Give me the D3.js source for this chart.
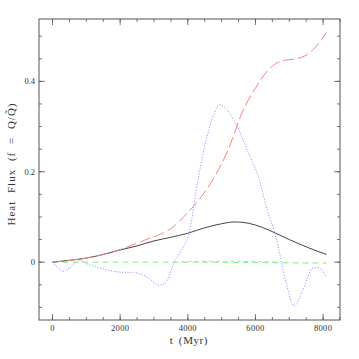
<!DOCTYPE html>
<meta charset="utf-8">
<style>
body { margin: 0; background: #fff; }
.frame { fill: none; stroke: #555; stroke-width: 1px; }
.tick line { stroke: #555; stroke-width: 0.8px; }
.lbl { font-family: "Liberation Serif", serif; fill: #333; }
.line { fill: none; }
</style>
<body>
<script src="https://d3js.org/d3.v7.min.js"></script>
<script>

var width = 359, height = 359;
var margin = {top: 19, right: 19, bottom: 39, left: 39};

// solid black
var tBlack = [0, 500, 1000, 1500, 2000, 2500, 3000, 3500, 4000, 4500, 5000, 5400, 5800, 6200, 6600, 7000, 7400, 7800, 8100];
var fBlack = [0, 0.004, 0.009, 0.017, 0.027, 0.036, 0.047, 0.055, 0.064, 0.076, 0.085, 0.089, 0.086, 0.077, 0.064, 0.050, 0.037, 0.025, 0.017];
// red long dashes
var tRed = [0, 500, 1000, 1500, 2000, 2400, 2800, 3200, 3600, 4000, 4400, 4800, 5200, 5600, 6000, 6400, 6800, 7200, 7500, 7800, 8100];
var fRed = [0, 0.004, 0.009, 0.017, 0.028, 0.039, 0.051, 0.062, 0.080, 0.110, 0.145, 0.190, 0.250, 0.330, 0.385, 0.427, 0.446, 0.450, 0.458, 0.478, 0.508];
// blue dotted
var tBlue = [0, 150, 300, 500, 800, 1000, 1400, 2000, 2400, 2800, 3150, 3350, 3600, 3800, 4050, 4300, 4650, 4950, 5250, 5500, 5800, 6100, 6350, 6600, 6900, 7150, 7400, 7700, 7850, 8100];
var fBlue = [0, -0.012, -0.020, -0.013, 0.004, -0.003, -0.013, -0.022, -0.023, -0.033, -0.051, -0.045, 0.000, 0.025, 0.068, 0.182, 0.300, 0.348, 0.328, 0.294, 0.240, 0.186, 0.115, 0.058, -0.044, -0.097, -0.061, -0.013, -0.012, -0.032];
// green dashes
var tGreen = [0, 2000, 4000, 6000, 8100];
var fGreen = [0, 0, 0, -0.001, -0.002];
// faint pink near zero
var tPink = [3800, 4500, 5200, 6000, 6600];
var fPink = [0.001, 0.002, 0.002, 0.001, 0.0005];

var xMajor = [0, 2000, 4000, 6000, 8000];
var yMajor = [0, 0.2, 0.4];

var x = d3.scaleLinear().domain([-400, 8500]).range([margin.left, width - margin.right]);
var y = d3.scaleLinear().domain([-0.128, 0.538]).range([height - margin.bottom, margin.top]);

var svg = d3.select("body").append("svg")
    .attr("width", width)
    .attr("height", height);

var xMinor = d3.range(0, 8501, 500);
var yMinor = d3.range(-0.1, 0.54, 0.05);

// inward ticks on all four sides
function ticks(axis, vals, len) {
  var g = svg.append("g").attr("class", "tick");
  vals.forEach(function(v) {
    if (axis === "x") {
      g.append("line").attr("x1", x(v)).attr("x2", x(v))
        .attr("y1", height - margin.bottom).attr("y2", height - margin.bottom - len);
      g.append("line").attr("x1", x(v)).attr("x2", x(v))
        .attr("y1", margin.top).attr("y2", margin.top + len);
    } else {
      g.append("line").attr("y1", y(v)).attr("y2", y(v))
        .attr("x1", margin.left).attr("x2", margin.left + len);
      g.append("line").attr("y1", y(v)).attr("y2", y(v))
        .attr("x1", width - margin.right).attr("x2", width - margin.right - len);
    }
  });
}
ticks("x", xMinor, 3);
ticks("x", xMajor, 6);
ticks("y", yMinor, 3);
ticks("y", yMajor, 6);

svg.append("rect").attr("class", "frame")
  .attr("x", margin.left).attr("y", margin.top)
  .attr("width", width - margin.left - margin.right)
  .attr("height", height - margin.top - margin.bottom);

svg.selectAll(".xl").data(xMajor).enter().append("text")
  .attr("class", "lbl")
  .attr("x", function(d) { return x(d); })
  .attr("y", height - margin.bottom + 11)
  .attr("text-anchor", "middle")
  .style("font-size", "8.5px")
  .style("letter-spacing", "0.3px")
  .text(function(d) { return d; });

svg.selectAll(".yl").data(yMajor).enter().append("text")
  .attr("class", "lbl")
  .attr("x", margin.left - 4)
  .attr("y", function(d) { return y(d) + 3; })
  .attr("text-anchor", "end")
  .style("font-size", "8.5px")
  .text(function(d) { return d === 0 ? "0" : d3.format(".1f")(d); });

svg.append("text").attr("class", "lbl")
  .attr("x", 189).attr("y", 344)
  .attr("text-anchor", "middle")
  .style("font-size", "11px")
  .style("letter-spacing", "0.6px")
  .style("word-spacing", "2px")
  .text("t (Myr)");

var yl = svg.append("text").attr("class", "lbl")
  .attr("transform", "translate(15,164) rotate(-90)")
  .attr("text-anchor", "middle")
  .style("font-size", "11px")
  .style("letter-spacing", "1px")
  .style("word-spacing", "4px");
yl.append("tspan").text("Heat Flux (f = Q/");
yl.append("tspan").text("Q\u0303");
yl.append("tspan").text(")");

var line = d3.line()
  .x(function(d) { return x(d[0]); })
  .y(function(d) { return y(d[1]); })
  .curve(d3.curveMonotoneX);

function draw(ts, fs, color, w, dash) {
  svg.append("path")
    .datum(d3.zip(ts, fs))
    .attr("class", "line")
    .attr("d", line)
    .attr("stroke", color)
    .attr("stroke-width", w)
    .attr("stroke-dasharray", dash);
}

draw(tPink, fPink, "#e6b3d6", 0.8, "4,3");
draw(tGreen, fGreen, "#7ef07e", 1, "6,4");
draw(tBlack, fBlack, "#444", 1, null);
draw(tRed, fRed, "#ff7f7f", 1, "11,4");
draw(tBlue, fBlue, "#9a9aff", 1, "1.2,1.6");

</script>
</body>
